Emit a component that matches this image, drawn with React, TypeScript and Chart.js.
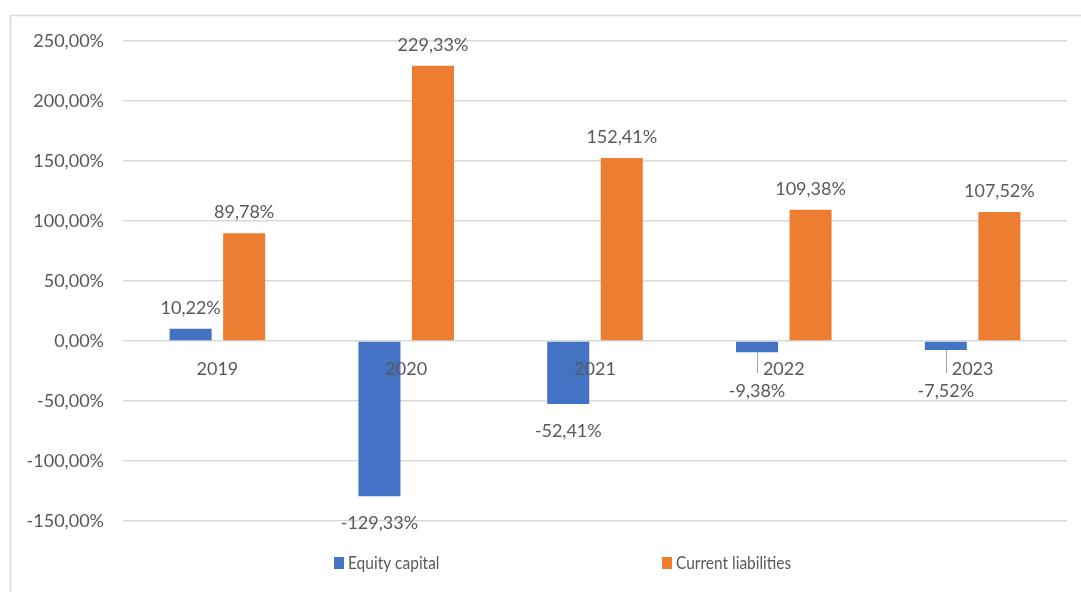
import React, { useEffect, useRef } from "react";
import { Chart, registerables } from "chart.js";

Chart.register(...registerables);

const categories = ["2019", "2020", "2021", "2022", "2023"];
const equityCapital = [10.22, -129.33, -52.41, -9.38, -7.52];
const currentLiabilities = [89.78, 229.33, 152.41, 109.38, 107.52];
const seriesNames = ["Equity capital", "Current liabilities"];
const seriesColors = ["#4472C4", "#ED7D31"];
const yMin = -150;
const yMax = 250;
const yStep = 50;

const TEXT = "#595959";
const GRID = "#d9d9d9";
const FONT = "Lato, 'Open Sans', sans-serif";

const fmt = (v: number) => v.toFixed(2).replace(".", ",") + "%";

const overlay = {
  id: "overlay",
  beforeDraw(chart: any) {
    const ctx = chart.ctx;
    ctx.save();
    ctx.strokeStyle = GRID;
    ctx.lineWidth = 1.5;
    ctx.beginPath();
    ctx.moveTo(10.5, chart.height);
    ctx.lineTo(10.5, 15.5);
    ctx.lineTo(chart.width, 15.5);
    ctx.stroke();
    ctx.restore();
  },
  afterDatasetsDraw(chart: any) {
    const ctx = chart.ctx;
    const xs = chart.scales.x;
    const ys = chart.scales.y;
    const zeroY = ys.getPixelForValue(0);
    ctx.save();
    ctx.fillStyle = TEXT;
    ctx.font = `18px ${FONT}`;
    ctx.textAlign = "center";
    ctx.textBaseline = "middle";
    // category labels at the zero line
    categories.forEach((c, i) => {
      ctx.fillText(c, xs.getPixelForValue(i), zeroY + 28);
    });
    // data labels
    chart.data.datasets.forEach((ds: any, di: number) => {
      const meta = chart.getDatasetMeta(di);
      meta.data.forEach((bar: any, i: number) => {
        const v = ds.data[i];
        const text = fmt(v);
        if (v >= 0) {
          ctx.fillText(text, bar.x, bar.y - 21);
        } else if (bar.y - zeroY < 30) {
          ctx.strokeStyle = "#a6a6a6";
          ctx.lineWidth = 1;
          ctx.beginPath();
          ctx.moveTo(Math.round(bar.x) + 0.5, bar.y);
          ctx.lineTo(Math.round(bar.x) + 0.5, zeroY + 32);
          ctx.stroke();
          ctx.fillText(text, bar.x, zeroY + 50);
        } else {
          ctx.fillText(text, bar.x, bar.y + 27);
        }
      });
    });
    // legend
    ctx.textAlign = "left";
    const legendX = [334, 662];
    const legendY = 563;
    seriesNames.forEach((name, i) => {
      ctx.fillStyle = seriesColors[i];
      ctx.fillRect(legendX[i], legendY - 6, 10, 12);
      ctx.fillStyle = TEXT;
      ctx.save();
      ctx.translate(legendX[i] + 14, legendY);
      ctx.scale(0.86, 1);
      ctx.font = `18px ${FONT}`;
      ctx.fillText(name, 0, 0);
      ctx.restore();
    });
    ctx.restore();
  },
};

export default function App() {
  const ref = useRef<HTMLCanvasElement>(null);
  useEffect(() => {
    if (!ref.current) return;
    const chart = new Chart(ref.current, {
      type: "bar",
      data: {
        labels: categories,
        datasets: [
          {
            label: seriesNames[0],
            data: equityCapital,
            backgroundColor: seriesColors[0],
            categoryPercentage: 0.567,
            barPercentage: 0.785,
          },
          {
            label: seriesNames[1],
            data: currentLiabilities,
            backgroundColor: seriesColors[1],
            categoryPercentage: 0.567,
            barPercentage: 0.785,
          },
        ],
      },
      options: {
        responsive: false,
        animation: false,
        layout: { padding: { top: 41, bottom: 71, right: 14, left: 0 } },
        plugins: { legend: { display: false }, tooltip: { enabled: false } },
        scales: {
          x: { display: false },
          y: {
            min: yMin,
            max: yMax,
            border: { display: false },
            grid: { color: GRID, lineWidth: 1.5, drawTicks: false },
            ticks: {
              stepSize: yStep,
              padding: 19,
              color: TEXT,
              font: { family: FONT, size: 18 },
              callback: (v: any) => fmt(Number(v)),
            },
            afterFit: (s: any) => {
              s.width = 123;
            },
          },
        },
      },
      plugins: [overlay],
    });
    return () => chart.destroy();
  }, []);
  return (
    <div style={{ position: "absolute", left: 0, top: 0, width: 1081, height: 592, background: "#fff" }}>
      <canvas ref={ref} width={1081} height={592} />
    </div>
  );
}
